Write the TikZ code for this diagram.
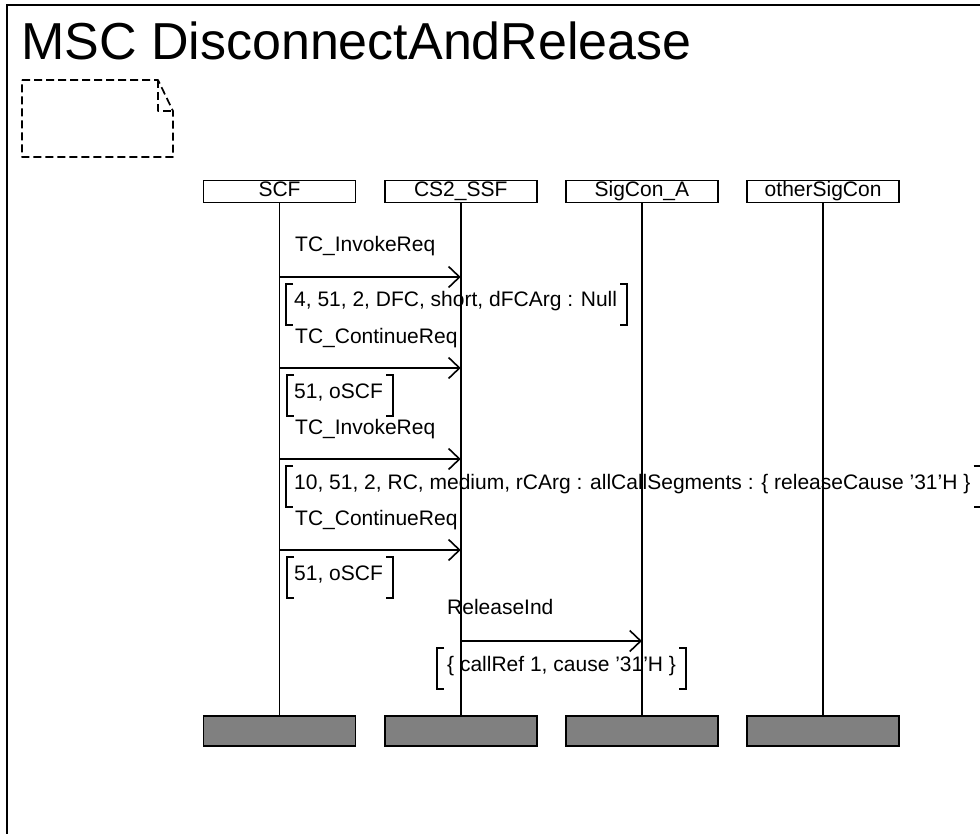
\documentclass[tikz,border=0pt]{standalone}
\usepackage{fontspec}
\setmainfont{Liberation Sans}
\usetikzlibrary{arrows.meta,calc}
\newcommand\mscCond[5]{% name, bracket x, arrow y, text inset, text
  \node[cond, anchor=base west] (#1) at (#2+#4, #3+30) {#5};
  \draw[brk] (#2+7,#3+7) -- (#2,#3+7) -- (#2,#3+48) -- (#2+7,#3+48);
  \coordinate (#1R) at ([xshift=10pt]#1.east);
  \draw[brk] (#1R |- 0,#3+7) ++(-7,0) -- ++(7,0) -- (#1R |- 0,#3+48) -- ++(-7,0);
}
\begin{document}
\begin{tikzpicture}[x=1pt,y=-1pt,
  txt/.style={font=\fontsize{21}{25}\selectfont, inner sep=0pt},
  cond/.style={txt},
  lbl/.style={txt, anchor=base west},
  headbox/.style={draw, line width=1.6pt, fill=white, minimum width=152pt, minimum height=22pt,
    inner sep=0pt, text height=16pt, text depth=5pt, font=\fontsize{21}{25}\selectfont},
  endbox/.style={draw, line width=1.8pt, fill=black!50, minimum width=152pt, minimum height=30pt, inner sep=0pt},
  life/.style={line width=1.6pt},
  msg/.style={line width=1.6pt, -{Straight Barb[length=11pt,width=21pt,line width=1.6pt]}},
  brk/.style={line width=1.8pt},
  frame/.style={line width=2.5pt},
  note/.style={line width=1.7pt, dash pattern=on 8pt off 4pt, line join=round}
]
\clip (0,0) rectangle (980,834);
\useasboundingbox (0,0) rectangle (980,834);
\fill[white] (0,0) rectangle (980,834);

% frame
\draw[frame] (7,1000) -- (7,5) -- (1100,5);
\node[anchor=base west, inner sep=0pt, font=\fontsize{52}{60}\selectfont] (title) at (21,60) {MSC DisconnectAndRelease};

% comment note
\draw[note] (22,80) -- (158,80) -- (173,111) -- (173,157) -- (22,157) -- cycle;
\draw[note] (158,80) -- (158,111) -- (173,111);

% instance heads
\node[headbox] (scf) at (279.5,191.5) {SCF};
\node[headbox] (ssf) at (460.7,191.5) {CS2\_SSF};
\node[headbox] (sca) at (641.9,191.5) {SigCon\_A};
\node[headbox] (osc) at (823.1,191.5) {otherSigCon};

% instance ends
\node[endbox] (scfE) at (279.5,731) {};
\node[endbox] (ssfE) at (460.7,731) {};
\node[endbox] (scaE) at (641.9,731) {};
\node[endbox] (oscE) at (823.1,731) {};

% lifelines
\draw[life] (scf.south) -- (scfE.north);
\draw[life] (ssf.south) -- (ssfE.north);
\draw[life] (sca.south) -- (scaE.north);
\draw[life] (osc.south) -- (oscE.north);

% message 1
\node[lbl] (l1) at (295,252) {TC\_InvokeReq};
\draw[msg] (scf.south |- 0,277) -- (ssf.south |- 0,277);
\mscCond{c1}{286}{277}{8}{4, 51, 2, DFC, short, dFCArg : Null}

% message 2
\node[lbl] (l2) at (295,343) {TC\_ContinueReq};
\draw[msg] (scf.south |- 0,368) -- (ssf.south |- 0,368);
\mscCond{c2}{287}{368}{7}{51, oSCF}

% message 3
\node[lbl] (l3) at (295,434) {TC\_InvokeReq};
\draw[msg] (scf.south |- 0,459) -- (ssf.south |- 0,459);
\mscCond{c3}{286}{459}{8}{10, 51, 2, RC, medium, rCArg : allCallSegments : \{ releaseCause ’31’H \}}

% message 4
\node[lbl] (l4) at (295,525) {TC\_ContinueReq};
\draw[msg] (scf.south |- 0,550) -- (ssf.south |- 0,550);
\mscCond{c4}{287}{550}{7}{51, oSCF}

% message 5
\node[lbl] (l5) at (447,614) {ReleaseInd};
\draw[msg] (ssf.south |- 0,641) -- (sca.south |- 0,641);
\mscCond{c5}{437}{641}{10}{\{ callRef 1, cause ’31’H \}}
\end{tikzpicture}
\end{document}
